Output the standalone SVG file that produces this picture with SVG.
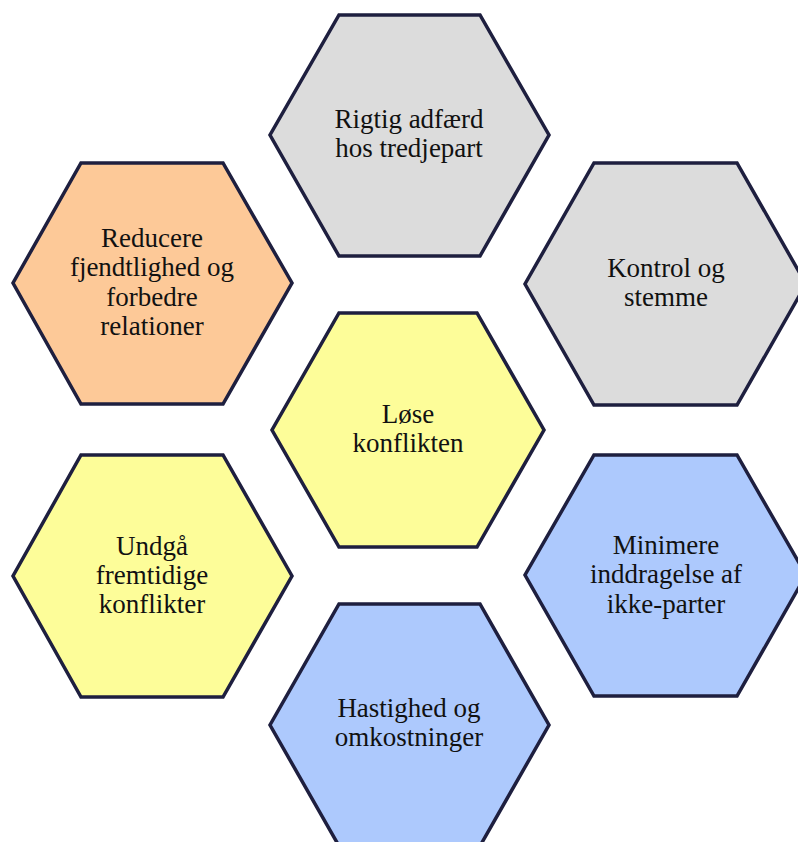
<svg xmlns="http://www.w3.org/2000/svg" width="798" height="842" viewBox="0 0 798 842">
<style>
.hex{stroke:#1e1f3f;stroke-width:3.5;stroke-linejoin:miter}
.gray{fill:#dcdcdc}
.orange{fill:#fdc998}
.yellow{fill:#fdfd99}
.blue{fill:#adc9fd}
text{font-family:"Liberation Serif","Times New Roman",serif;font-size:27px;fill:#111;text-anchor:middle}
</style>
<rect width="798" height="842" fill="#fff"/>
<g id="connectors"/>
<g id="n-top">
<polygon class="hex gray" points="339,15 480,15 549,135 480,256 339,256 270,135"/>
<text x="409" y="128">Rigtig adfærd</text>
<text x="409" y="157">hos tredjepart</text>
</g>
<g id="n-left-top">
<polygon class="hex orange" points="81,163 223,163 292,283 223,404 81,404 13,283"/>
<text x="152" y="247">Reducere</text>
<text x="152" y="276">fjendtlighed og</text>
<text x="152" y="306">forbedre</text>
<text x="152" y="335">relationer</text>
</g>
<g id="n-right-top">
<polygon class="hex gray" points="594,163 737,163 806,284 737,405 594,405 525,284"/>
<text x="666" y="277">Kontrol og</text>
<text x="666" y="306">stemme</text>
</g>
<g id="n-center">
<polygon class="hex yellow" points="339,313 477,313 544,430 477,547 339,547 272,430"/>
<text x="408" y="423">Løse</text>
<text x="408" y="452">konflikten</text>
</g>
<g id="n-left-bottom">
<polygon class="hex yellow" points="81,455 223,455 292,576 223,697 81,697 13,576"/>
<text x="152" y="555">Undgå</text>
<text x="152" y="584">fremtidige</text>
<text x="152" y="613">konflikter</text>
</g>
<g id="n-right-bottom">
<polygon class="hex blue" points="594,455 737,455 806,575 737,696 594,696 525,575"/>
<text x="666" y="554">Minimere</text>
<text x="666" y="583">inddragelse af</text>
<text x="666" y="613">ikke-parter</text>
</g>
<g id="n-bottom">
<polygon class="hex blue" points="339,604 480,604 549,725 480,846 339,846 270,725"/>
<text x="409" y="717">Hastighed og</text>
<text x="409" y="746">omkostninger</text>
</g>
</svg>
